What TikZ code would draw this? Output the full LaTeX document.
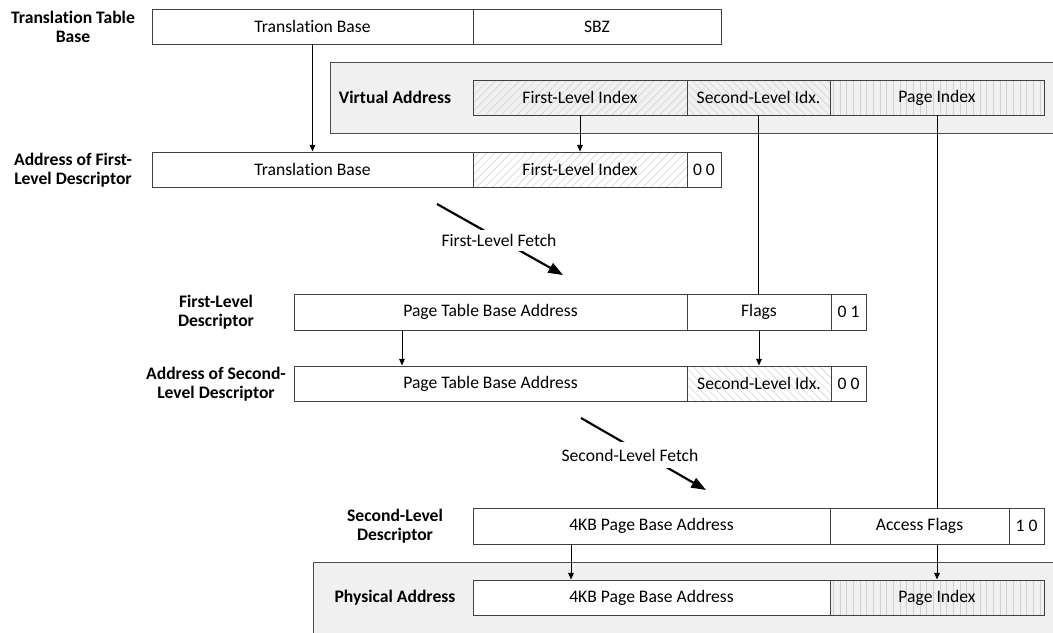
\documentclass[tikz,border=0pt]{standalone}
\usepackage{fontspec}
\setmainfont{Carlito}[Ligatures={NoCommon}]
\usetikzlibrary{arrows.meta,patterns.meta}

\tikzset{
  fld/.style={draw=black!75, fill=white, line width=0.75pt, inner sep=0pt,
    font=\fontsize{13.2}{15}\selectfont},
  panel/.style={draw=black!70, fill=black!6, line width=0.75pt},
  hatchR/.style={pattern={Lines[angle=45,distance=4.2pt,line width=0.35pt]},
    pattern color=black!20},
  hatchL/.style={pattern={Lines[angle=-45,distance=4.2pt,line width=0.35pt]},
    pattern color=black!20},
  vstripe/.style={pattern={Lines[angle=90,distance=5pt,line width=0.35pt]},
    pattern color=black!18},
  lbl/.style={font=\bfseries\fontsize{13.2}{14.4}\selectfont, align=center,
    inner sep=0pt},
  arr/.style={line width=0.75pt, -{Triangle[length=5pt,width=4.2pt]}},
  link/.style={line width=0.75pt},
  fetch/.style={line width=1.6pt, -{Triangle[length=11pt,width=8pt]}},
  fetchlbl/.style={fill=white, inner xsep=1pt, inner ysep=3pt,
    font=\fontsize{13.2}{15}\selectfont},
}

% one field of a register: [style] name, x1, x2, y1, y2, text (pixel units)
\newcommand\regfield[7][]{%
  \pgfmathsetmacro\fw{(#4-#3)*0.75}%
  \pgfmathsetmacro\fh{(#6-#5)*0.75}%
  \node[fld,#1,minimum width=\fw pt,minimum height=\fh pt]
    (#2) at ({(#3+#4)/2},{(#5+#6)/2}) {#7};}

\begin{document}
\begin{tikzpicture}[x=0.75pt,y=-0.75pt]
\useasboundingbox (0,0) rectangle (1053,632);
\clip (0,0) rectangle (1053,632);

% translation table base register
\regfield{tbb}{152}{473}{9}{44}{Translation Base}
\regfield{tbs}{473}{721}{9}{44}{SBZ}
\node[lbl] (tbl) at (73,26.5) {Translation Table\\Base};

% virtual address
\draw[panel] (330,62) rectangle (1060,133);
\node[lbl] (val) at (395,97.5) {Virtual Address};
\regfield[hatchR]{vafl}{473}{687}{80}{115}{First-Level Index}
\regfield[hatchL]{vasl}{687}{830}{80}{115}{Second-Level Idx.}
\regfield[vstripe]{vapi}{830}{1044}{80}{115}{Page Index}

% address of first-level descriptor
\regfield{afltb}{152}{473}{152}{187}{Translation Base}
\regfield[hatchR]{aflfl}{473}{687}{152}{187}{First-Level Index}
\regfield{afl00}{687}{721}{152}{187}{0 0}
\node[lbl] (afll) at (73,170) {Address of First-\\Level Descriptor};

% first-level descriptor
\regfield{fldpt}{294}{687}{294}{330}{Page Table Base Address}
\regfield{fldfl}{687}{831}{294}{330}{Flags}
\regfield{fld01}{831}{866}{294}{330}{0 1}
\node[lbl] (fldl) at (216,312.5) {First-Level\\Descriptor};

% address of second-level descriptor
\regfield{aslpt}{294}{687}{366}{401}{Page Table Base Address}
\regfield[hatchL]{aslsl}{687}{831}{366}{401}{Second-Level Idx.}
\regfield{asl00}{831}{866}{366}{401}{0 0}
\node[lbl] (asll) at (216,384) {Address of Second-\\Level Descriptor};

% second-level descriptor
\regfield{sldpb}{473}{830}{508}{544}{4KB Page Base Address}
\regfield{sldaf}{830}{1009}{508}{544}{Access Flags}
\regfield{sld10}{1009}{1044}{508}{544}{1 0}
\node[lbl] (sldl) at (395,526) {Second-Level\\Descriptor};

% physical address
\draw[panel] (313,562) rectangle (1060,640);
\node[lbl] (pal) at (395,597.5) {Physical Address};
\regfield{papb}{473}{830}{580}{615}{4KB Page Base Address}
\regfield[vstripe]{papi}{830}{1044}{580}{615}{Page Index}

% field connectors
\coordinate (c402) at (402,0);
\coordinate (c571) at (571,0);
\draw[arr] (tbb.south) -- (afltb.north);
\draw[arr] (vafl.south) -- (aflfl.north);
\draw[link] (vasl.south) -- (vasl.south |- fldfl.north);
\draw[link] (vapi.south) -- (vapi.south |- sldaf.north);
\draw[arr] (fldpt.south -| c402) -- (aslpt.north -| c402);
\draw[arr] (fldfl.south) -- (aslsl.north);
\draw[arr] (sldpb.south -| c571) -- (papb.north -| c571);
\draw[arr] (papi.north |- sldaf.south) -- (papi.north);

% table walk fetches
\coordinate (f1s) at (437,204);
\coordinate (f1e) at (563,275);
\coordinate (f2s) at (581,418);
\coordinate (f2e) at (706,490);
\draw[fetch] (f1s) -- (f1e);
\node[fetchlbl] (f1l) at (499,240.5) {First-Level Fetch};
\draw[fetch] (f2s) -- (f2e);
\node[fetchlbl, inner ysep=5pt] (f2l) at (630,455) {Second-Level Fetch};
\end{tikzpicture}
\end{document}
